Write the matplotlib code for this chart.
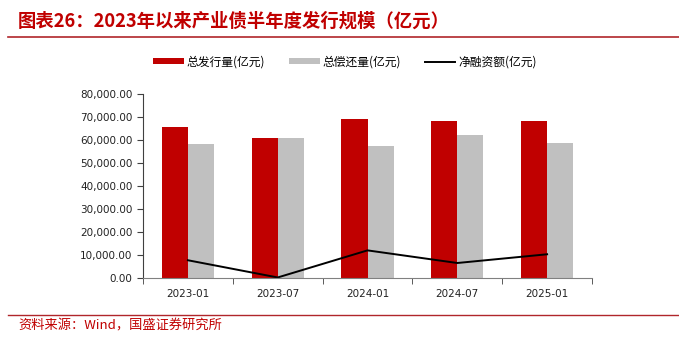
import matplotlib
matplotlib.use("Agg")
import matplotlib.pyplot as plt
from matplotlib.ticker import FuncFormatter, FixedLocator

plt.rcParams['font.family'] = ['DejaVu Sans', 'Noto Sans CJK SC']

periods = ["2023-01", "2023-07", "2024-01", "2024-07", "2025-01"]
issuance = [65500, 60700, 69000, 68400, 68400]
repayment = [58200, 61000, 57300, 62300, 58700]
net_financing = [7600, 100, 11900, 6400, 10200]

title = "图表26：2023年以来产业债半年度发行规模（亿元）"
source = "资料来源：Wind，国盛证券研究所"
labels = ["总发行量(亿元)", "总偿还量(亿元)", "净融资额(亿元)"]

RED = "#C00000"
GRAY = "#C0C0C0"
DARKRED = "#B0262B"
cjk = ['Noto Sans CJK SC', 'DejaVu Sans']

fig = plt.figure(figsize=(6.79, 3.45), dpi=100)
ax = fig.add_axes([143 / 679, 1 - 277.7 / 345, (592 - 143) / 679, (277.7 - 94) / 345])

x = list(range(len(periods)))
w = 0.29
b1 = ax.bar([i - w / 2 for i in x], issuance, width=w, color=RED, label=labels[0])
b2 = ax.bar([i + w / 2 for i in x], repayment, width=w, color=GRAY, label=labels[1])
l1, = ax.plot(x, net_financing, color="black", lw=1.4, label=labels[2])

ax.set_xlim(-0.5, len(periods) - 0.5)
ax.set_ylim(0, 80000)
ax.set_yticks(range(0, 80001, 10000))
ax.yaxis.set_major_formatter(FuncFormatter(lambda v, p: f"{v:,.2f}"))
ax.set_xticks(x)
ax.set_xticklabels(periods)
ax.xaxis.set_minor_locator(FixedLocator([i - 0.5 for i in range(len(periods) + 1)]))
ax.tick_params(axis="x", which="major", length=0, labelsize=7.5, pad=8, colors="#222222")
ax.tick_params(axis="x", which="minor", length=4, color="#404040", direction="out")
ax.tick_params(axis="y", length=4, labelsize=7.5, colors="#404040", labelcolor="#222222")

for s in ["top", "right"]:
    ax.spines[s].set_visible(False)
ax.spines["left"].set_color("#404040")
ax.spines["bottom"].set_color("#808080")

fig.legend(handles=[b1, b2, l1], labels=labels, loc="center", bbox_to_anchor=(345 / 679, 1 - 62 / 345),
           ncol=3, frameon=False, prop={'family': cjk, 'size': 8.5},
           handlelength=2.6, handleheight=0.45, columnspacing=2.0, handletextpad=0.25)

fig.text(18 / 679, 1 - 21 / 345, title, color=RED, fontsize=13.2, fontweight="bold",
         family=cjk, va="center", ha="left")
fig.add_artist(plt.Line2D([8 / 679, 1.0], [1 - 37 / 345] * 2, color=DARKRED, lw=1.2))
fig.add_artist(plt.Line2D([8 / 679, 1.0], [1 - 315 / 345] * 2, color=DARKRED, lw=1.0))
fig.text(18 / 679, 1 - 326 / 345, source, color=RED, fontsize=9.5, family=cjk,
         va="center", ha="left")

fig.savefig("out.png", dpi=100)
